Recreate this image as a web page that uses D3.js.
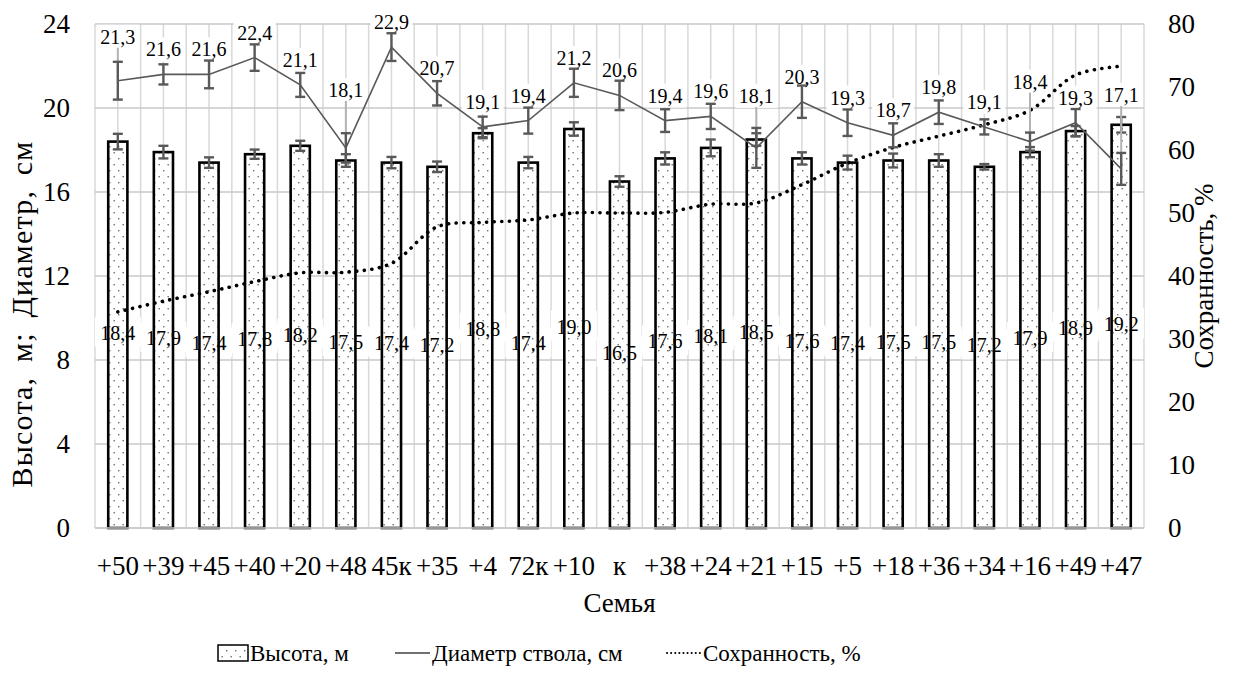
<!DOCTYPE html>
<html>
<head>
<meta charset="utf-8">
<script src="https://cdn.jsdelivr.net/npm/d3@7"></script>
<style>
  body { margin: 0; background: #fff; }
  svg { display: block; }
</style>
</head>
<body>
<svg id="chart" width="1234" height="680" style="font-family:'Liberation Serif'"></svg>
<script>
// Families (x categories)
const families = ["+50","+39","+45","+40","+20","+48","45к","+35","+4","72к","+10","к",
                  "+38","+24","+21","+15","+5","+18","+36","+34","+16","+49","+47"];
// Tree height, m, and its error
const heightM   = [18.4,17.9,17.4,17.8,18.2,17.5,17.4,17.2,18.8,17.4,19.0,16.5,
                   17.6,18.1,18.5,17.6,17.4,17.5,17.5,17.2,17.9,18.9,19.2];
const heightErr = [0.37,0.30,0.25,0.22,0.24,0.30,0.27,0.25,0.24,0.27,0.32,0.25,
                   0.29,0.40,0.30,0.29,0.33,0.33,0.30,0.13,0.24,0.24,0.37];
// Stem diameter, cm, and its error
const diameterCm  = [21.3,21.6,21.6,22.4,21.1,18.1,22.9,20.7,19.1,19.4,21.2,20.6,
                     19.4,19.6,18.1,20.3,19.3,18.7,19.8,19.1,18.4,19.3,17.1];
const diameterErr = [0.90,0.48,0.66,0.63,0.57,0.70,0.66,0.58,0.49,0.62,0.67,0.70,
                     0.54,0.60,0.95,0.77,0.63,0.57,0.56,0.36,0.43,0.65,0.76];
// Survival, %
const survivalPct = [34.3,36.0,37.5,39.1,40.5,40.6,42.0,47.8,48.5,48.9,50.0,50.0,
                     50.1,51.4,51.6,54.5,57.9,60.4,62.2,64.0,66.3,71.9,73.3];
// Axis ticks
const leftTicks  = [0,4,8,12,16,20,24];
const rightTicks = [0,10,20,30,40,50,60,70,80];

const FONT = "'Liberation Serif'";
const fmt = v => d3.format(".1f")(v).replace(".", ",");

const svg = d3.select("#chart");
svg.append("rect").attr("width", 1234).attr("height", 680).attr("fill", "#fff");

const plot = { left: 95, right: 1144, top: 24, bottom: 528 };

const x = d3.scaleBand().domain(families).range([plot.left, plot.right]);
const xBar = d3.scaleBand().domain(families).range([plot.left, plot.right])
  .paddingInner(0.58).paddingOuter(0.29);
const yL = d3.scaleLinear().domain([0, 24]).range([plot.bottom, plot.top]);
const yR = d3.scaleLinear().domain([0, 80]).range([plot.bottom, plot.top]);
const cx = c => x(c) + x.bandwidth() / 2;

// dotted fill for the bars
const defs = svg.append("defs");
const pat = defs.append("pattern").attr("id", "dots")
  .attr("patternUnits", "userSpaceOnUse").attr("width", 9).attr("height", 12);
pat.append("rect").attr("width", 9).attr("height", 12).attr("fill", "#fff");
pat.append("rect").attr("x", 1).attr("y", 2).attr("width", 1.4).attr("height", 1.4).attr("fill", "#6e6e6e");
pat.append("rect").attr("x", 5.5).attr("y", 8).attr("width", 1.4).attr("height", 1.4).attr("fill", "#6e6e6e");

// gridlines
const grid = svg.append("g");
const vLines = [];
families.forEach(c => { vLines.push(x(c)); vLines.push(cx(c)); });
vLines.push(plot.right);
grid.selectAll("line.v").data(vLines).join("line")
  .attr("x1", d => d).attr("x2", d => d)
  .attr("y1", plot.top).attr("y2", plot.bottom)
  .attr("stroke", "#d9d9d9").attr("stroke-width", 1.5);
grid.selectAll("line.h").data(leftTicks).join("line")
  .attr("x1", plot.left).attr("x2", plot.right)
  .attr("y1", d => yL(d)).attr("y2", d => yL(d))
  .attr("stroke", "#c8c8c8").attr("stroke-width", 1.5);

// white backing boxes for the labels
const boxes = svg.append("g");
const barLabelY = (v) => yL(v / 2) - 2;
families.forEach((c, i) => {
  boxes.append("rect")
    .attr("x", cx(c) - 23).attr("y", barLabelY(heightM[i]) - 16)
    .attr("width", 46).attr("height", 30).attr("fill", "#fff");
});

// diameter labels are lifted above their points; some sit higher with a leader line
const liftDefault = 25;
const liftMoved = { 0: 44, 5: 58, 14: 52, 20: 60, 22: 74 };
const diaLabelY = i => yL(diameterCm[i]) - (liftMoved[i] !== undefined ? liftMoved[i] : liftDefault);
families.forEach((c, i) => {
  boxes.append("rect")
    .attr("x", cx(c) - 21).attr("y", diaLabelY(i) - 12)
    .attr("width", 42).attr("height", 24).attr("fill", "#fff");
});

// bars
svg.append("g").selectAll("rect").data(families).join("rect")
  .attr("x", c => xBar(c))
  .attr("width", xBar.bandwidth())
  .attr("y", (c, i) => yL(heightM[i]))
  .attr("height", (c, i) => yL(0) - yL(heightM[i]))
  .attr("fill", "url(#dots)")
  .attr("stroke", "#000").attr("stroke-width", 2.6);

// error bars helper
function errorBars(g, values, errs, color, width) {
  families.forEach((c, i) => {
    const xc = cx(c), y1 = yL(values[i] + errs[i]), y2 = yL(values[i] - errs[i]);
    g.append("line").attr("x1", xc).attr("x2", xc).attr("y1", y1).attr("y2", y2)
      .attr("stroke", color).attr("stroke-width", width);
    [y1, y2].forEach(y => g.append("line")
      .attr("x1", xc - 5).attr("x2", xc + 5).attr("y1", y).attr("y2", y)
      .attr("stroke", color).attr("stroke-width", width));
  });
}
errorBars(svg.append("g"), heightM, heightErr, "#595959", 2.4);

// survival line (smoothed, dotted), right axis
svg.append("path")
  .datum(survivalPct)
  .attr("d", d3.line().x((d, i) => cx(families[i])).y(d => yR(d)).curve(d3.curveCatmullRom.alpha(0.5)))
  .attr("fill", "none").attr("stroke", "#000").attr("stroke-width", 3.6)
  .attr("stroke-linecap", "round").attr("stroke-dasharray", "0.1 7.5");

// leader lines for moved diameter labels
Object.keys(liftMoved).forEach(k => {
  const i = +k, xc = cx(families[i]);
  svg.append("line").attr("x1", xc).attr("x2", xc)
    .attr("y1", diaLabelY(i) + 11).attr("y2", yL(diameterCm[i]))
    .attr("stroke", "#b3b3b3").attr("stroke-width", 2);
});

// diameter line
svg.append("path")
  .datum(diameterCm)
  .attr("d", d3.line().x((d, i) => cx(families[i])).y(d => yL(d)))
  .attr("fill", "none").attr("stroke", "#595959").attr("stroke-width", 1.6);
errorBars(svg.append("g"), diameterCm, diameterErr, "#595959", 2.4);

// value labels
const labels = svg.append("g").attr("text-anchor", "middle");
families.forEach((c, i) => {
  labels.append("text").attr("x", cx(c)).attr("y", barLabelY(heightM[i]))
    .attr("dy", "0.35em").style("font-size", "20px").text(fmt(heightM[i]));
  labels.append("text").attr("x", cx(c)).attr("y", diaLabelY(i))
    .attr("dy", "0.35em").style("font-size", "20px").text(fmt(diameterCm[i]));
});

// axes
const axL = svg.append("g").attr("transform", `translate(${plot.left},0)`)
  .call(d3.axisLeft(yL).tickValues(leftTicks).tickSize(0).tickPadding(25));
const axR = svg.append("g").attr("transform", `translate(${plot.right},0)`)
  .call(d3.axisRight(yR).tickValues(rightTicks).tickSize(0).tickPadding(24));
const axB = svg.append("g").attr("transform", `translate(0,${plot.bottom})`)
  .call(d3.axisBottom(x).tickSize(0).tickPadding(28));
[axL, axR, axB].forEach(a => {
  a.attr("font-family", null).attr("font-size", null);
  a.select(".domain").remove();
  a.selectAll("text").style("font-size", "27px");
});
svg.append("line").attr("x1", plot.left).attr("x2", plot.right)
  .attr("y1", plot.bottom).attr("y2", plot.bottom)
  .attr("stroke", "#c8c8c8").attr("stroke-width", 1.5);

// axis titles
svg.append("text").attr("x", (plot.left + plot.right) / 2).attr("y", 612)
  .attr("text-anchor", "middle").style("font-size", "27px").text("Семья");
svg.append("text").attr("transform", "translate(32,314) rotate(-90)")
  .attr("text-anchor", "middle").style("font-size", "30px")
  .style("word-spacing", "6px").style("letter-spacing", "1.2px")
  .text("Высота, м; Диаметр, см");
svg.append("text").attr("transform", `translate(1213,${(plot.top + plot.bottom) / 2}) rotate(-90)`)
  .attr("text-anchor", "middle").style("font-size", "27px").text("Сохранность, %");

// legend
const lg = svg.append("g");
const ly = 653;
lg.append("rect").attr("x", 218).attr("y", ly - 8).attr("width", 30).attr("height", 16)
  .attr("fill", "url(#dots)").attr("stroke", "#000").attr("stroke-width", 1.5);
lg.append("text").attr("x", 250).attr("y", ly).attr("dy", "0.35em").style("font-size", "23px").text("Высота, м");
lg.append("line").attr("x1", 395).attr("x2", 430).attr("y1", ly).attr("y2", ly)
  .attr("stroke", "#404040").attr("stroke-width", 1.6);
lg.append("text").attr("x", 432).attr("y", ly).attr("dy", "0.35em").style("font-size", "23px").text("Диаметр ствола, см");
lg.append("line").attr("x1", 667).attr("x2", 700).attr("y1", ly).attr("y2", ly)
  .attr("stroke", "#000").attr("stroke-width", 2)
  .attr("stroke-linecap", "round").attr("stroke-dasharray", "0.1 4");
lg.append("text").attr("x", 703).attr("y", ly).attr("dy", "0.35em").style("font-size", "23px").text("Сохранность, %");

// serif face for every text element
svg.selectAll("text").style("font-family", FONT).style("fill", "#000");
</script>
</body>
</html>
